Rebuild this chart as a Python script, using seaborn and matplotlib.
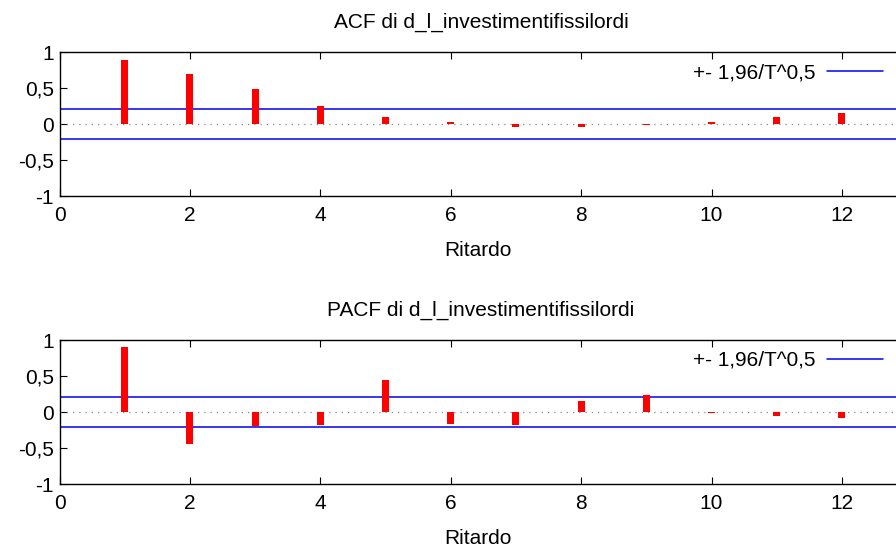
import matplotlib
matplotlib.use("Agg")
import matplotlib.pyplot as plt
import seaborn as sns
import numpy as np
import pandas as pd

lags = [1, 2, 3, 4, 5, 6, 7, 8, 9, 10, 11, 12]
acf_values = [0.89, 0.70, 0.485, 0.245, 0.10, 0.025, -0.045, -0.04, -0.015, 0.03, 0.10, 0.15]
pacf_values = [0.90, -0.44, -0.19, -0.185, 0.44, -0.17, -0.175, 0.15, 0.23, -0.02, -0.05, -0.08]
band = 0.205
titles = ["ACF di d_l_investimentifissilordi", "PACF di d_l_investimentifissilordi"]
xlabel = "Ritardo"
legend_label = "+- 1,96/T^0,5"
xticks = [0, 2, 4, 6, 8, 10, 12]
yticks = [-1, -0.5, 0, 0.5, 1]
yticklabels = ["-1", "-0,5", "0", "0,5", "1"]

sns.set_theme(style="ticks")
plt.rcParams["font.family"] = ["Liberation Sans", "DejaVu Sans"]
plt.rcParams["text.color"] = "black"
plt.rcParams["axes.labelcolor"] = "black"
FS = 15
fs_px = FS * 100 / 72

W, H = 896, 550
fig = plt.figure(figsize=(W / 100, H / 100), dpi=100)

x0 = 59.5
px_per_unit = 65.2
xmax = (W - x0) / px_per_unit

panels = [
    (acf_values, 52, 196),
    (pacf_values, 340, 484),
]

for (vals, top_px, bot_px), title in zip(panels, titles):
    ah = bot_px - top_px
    aw = W - x0
    ax = fig.add_axes([x0 / W, 1 - bot_px / H, aw / W, ah / H])
    df = pd.DataFrame({"lag": lags, "val": vals})
    sns.barplot(data=df, x="lag", y="val", native_scale=True, width=0.11,
                color="#ff0000", saturation=1, edgecolor="none", ax=ax, zorder=3)
    ax.axhline(0, color="#888888", linestyle=(0, (1, 4)), linewidth=0.9, zorder=1)
    ax.axhline(band, color="#0000ee", linewidth=1.1, zorder=2, label=legend_label)
    ax.axhline(-band, color="#0000ee", linewidth=1.1, zorder=2)
    ax.set_xlim(0, xmax)
    ax.set_ylim(-1, 1)
    ax.set_xticks(xticks)
    ax.set_xticklabels([str(t) for t in xticks], fontsize=FS)
    ax.set_yticks(yticks)
    ax.set_yticklabels(yticklabels, fontsize=FS)
    ax.tick_params(direction="in", length=5, width=0.8, top=True, right=False,
                   colors="black", labelcolor="black")
    ax.tick_params(axis="x", pad=7)
    ax.tick_params(axis="y", pad=4)
    for side in ["top", "bottom", "left"]:
        ax.spines[side].set_visible(True)
        ax.spines[side].set_linewidth(1.0)
        ax.spines[side].set_color("black")
    ax.spines["right"].set_visible(False)
    ax.set_xlabel(xlabel, fontsize=FS, labelpad=12, color="black")
    ax.set_ylabel("")
    ax.text((481 - x0) / aw, 1 + 24 / ah, title,
            transform=ax.transAxes, ha="center", va="baseline", fontsize=FS,
            color="black")
    pad_px = 0.4 * fs_px
    leg = ax.legend(loc="upper right", frameon=False, markerfirst=False,
                    handlelength=2.7, handletextpad=0.55, fontsize=FS,
                    borderaxespad=0,
                    bbox_to_anchor=((883 + pad_px - x0) / aw, 1 + (pad_px - 11) / ah))
    for t in leg.get_texts():
        t.set_color("black")

fig.savefig("out.png", dpi=100)
